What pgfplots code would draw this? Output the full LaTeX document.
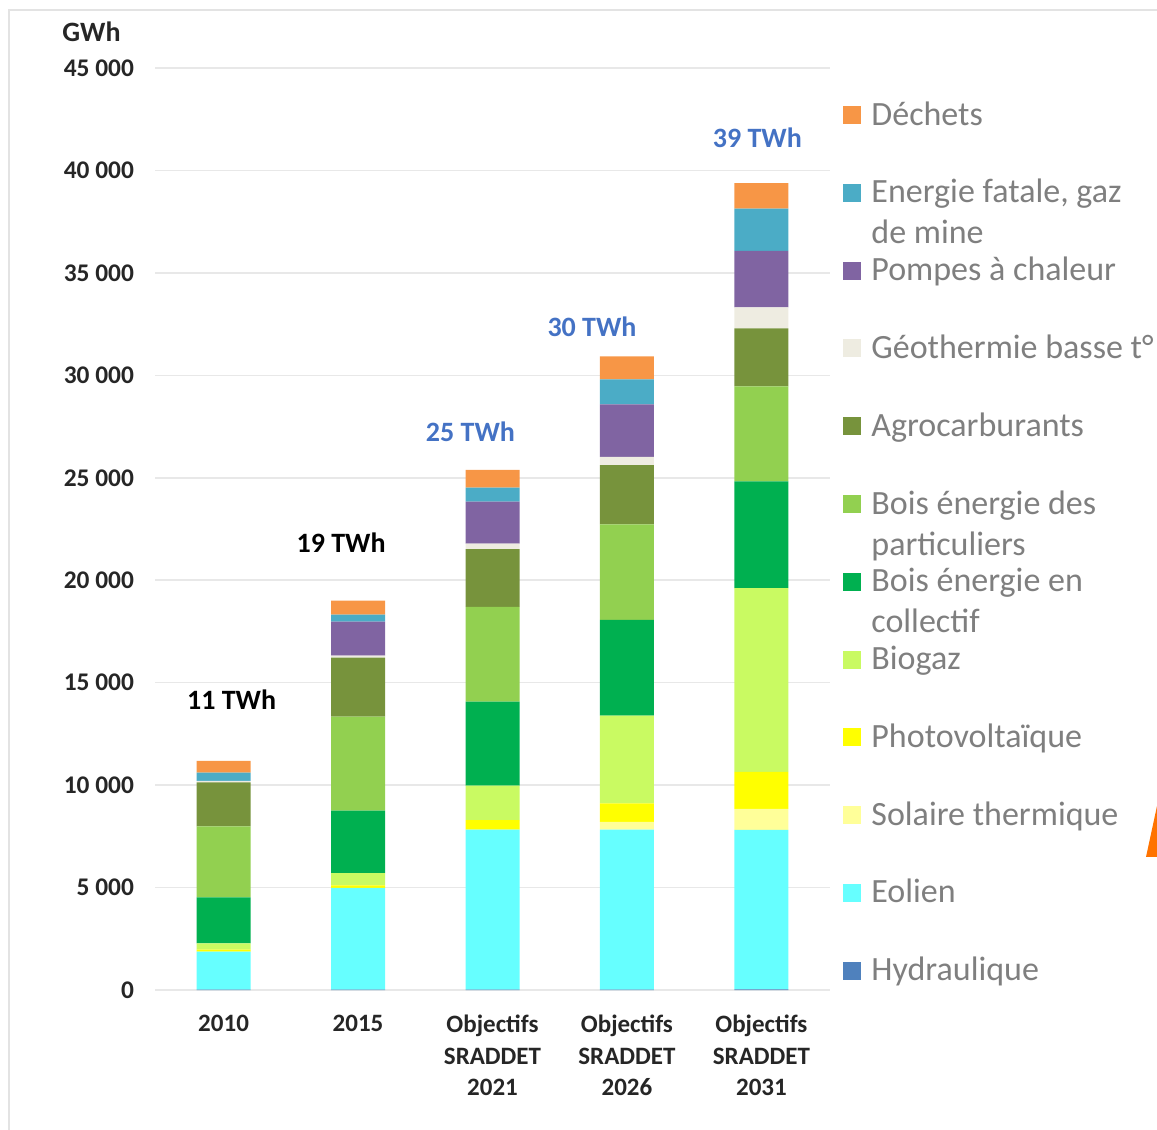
\documentclass[border=0pt]{standalone}
\usepackage{pgfplots}
\pgfplotsset{compat=1.18}
\usepackage{pgfplotstable}
\usepackage{fontspec}
\setmainfont{Carlito}

\definecolor{cHyd}{HTML}{4F81BD}
\definecolor{cEol}{HTML}{66FFFF}
\definecolor{cSol}{HTML}{FFFF99}
\definecolor{cPV}{HTML}{FFFF00}
\definecolor{cBio}{HTML}{C9FA62}
\definecolor{cBcol}{HTML}{00B050}
\definecolor{cBpart}{HTML}{92D050}
\definecolor{cAgro}{HTML}{77933C}
\definecolor{cGeo}{HTML}{EEECE1}
\definecolor{cPac}{HTML}{8064A2}
\definecolor{cFat}{HTML}{4BACC6}
\definecolor{cDech}{HTML}{F79646}
\definecolor{tickcol}{HTML}{262626}
\definecolor{leggray}{HTML}{7F7F7F}
\definecolor{twhblue}{HTML}{4472C4}

% GWh, categories 0..4 = 2010, 2015, 2021, 2026, 2031
\pgfplotstableread{
x hyd eol sol pv bio bcol bpart agro geo pac fat dech
0 20 1850 0 100 300 2250 3460 2150 80 0 400 570
1 20 4960 0 130 600 3050 4580 2880 100 1660 340 680
2 20 7810 0 460 1680 4110 4620 2820 260 2060 680 860
3 20 7810 370 910 4280 4680 4650 2900 400 2560 1220 1120
4 30 7780 1030 1800 8970 5210 4640 2830 1030 2760 2060 1240
}\data

\pgfplotsset{
  sq/.style={fill=#1, draw=none,
    legend image code/.code={\fill[##1] (0pt,0.5pt) rectangle (9pt,9.5pt);}},
}

\begin{document}
\begin{tikzpicture}
\path[use as bounding box] (0pt,0pt) rectangle (578.5pt,565pt);
\draw[gray!22, line width=1pt] (4.5pt,0pt) -- (4.5pt,560pt) -- (578.5pt,560pt);
\fill[orange!90!red] (573pt,136.5pt) -- (578.5pt,162pt) -- (578.5pt,136.5pt) -- cycle;
\node[anchor=base west, inner sep=0pt, text=tickcol,
  font=\bfseries\fontsize{14}{16}\selectfont] at (31pt,544pt) {GWh};

\begin{axis}[
  at={(77.5pt,70pt)}, anchor=south west,
  scale only axis, width=337.5pt, height=461pt,
  ybar stacked, bar width=27pt,
  xmin=-0.51, xmax=4.51, ymin=0, ymax=45000,
  xtick={0,1,2,3,4},
  xticklabels={2010,2015,{Objectifs\\SRADDET\\2021},{Objectifs\\SRADDET\\2026},{Objectifs\\SRADDET\\2031}},
  ytick={0,5000,10000,15000,20000,25000,30000,35000,40000,45000},
  yticklabels={0,5 000,10 000,15 000,20 000,25 000,30 000,35 000,40 000,45 000},
  scaled y ticks=false,
  ymajorgrids, grid style={gray!18, line width=0.8pt},
  axis line style={draw=none}, major tick length=0pt,
  tick style={draw=none},
  yticklabel style={font=\bfseries\fontsize{12.7}{15}\selectfont, text=tickcol, xshift=-7pt},
  xticklabel style={font=\bfseries\fontsize{12.5}{15.75}\selectfont, text=tickcol, align=center, yshift=-9pt},
  clip=false,
  reverse legend,
  legend cell align=left,
  legend style={at={(rel axis cs:1,1)}, anchor=north west, xshift=6.5pt, yshift=-16.3pt,
    draw=none, fill=none, inner sep=0pt, row sep=22.9pt, column sep=5pt,
    font=\fontsize{17}{20.5}\selectfont, text=leggray,
    nodes={text height=12pt, text depth=4pt, inner sep=0pt, anchor=base west}},
]
\addplot[sq=cHyd] table[x=x,y=hyd]{\data}; \addlegendentry{Hydraulique}
\addplot[sq=cEol] table[x=x,y=eol]{\data}; \addlegendentry{Eolien}
\addplot[sq=cSol] table[x=x,y=sol]{\data}; \addlegendentry{Solaire thermique}
\addplot[sq=cPV] table[x=x,y=pv]{\data}; \addlegendentry{Photovoltaïque}
\addplot[sq=cBio] table[x=x,y=bio]{\data}; \addlegendentry{Biogaz}
\addplot[sq=cBcol] table[x=x,y=bcol]{\data}; \addlegendentry{\begin{tabular}[t]{@{}l@{}}Bois énergie en\\collectif\end{tabular}}
\addplot[sq=cBpart] table[x=x,y=bpart]{\data}; \addlegendentry{\begin{tabular}[t]{@{}l@{}}Bois énergie des\\particuliers\end{tabular}}
\addplot[sq=cAgro] table[x=x,y=agro]{\data}; \addlegendentry{Agrocarburants}
\addplot[sq=cGeo] table[x=x,y=geo]{\data}; \addlegendentry{Géothermie basse t°}
\addplot[sq=cPac] table[x=x,y=pac]{\data}; \addlegendentry{Pompes à chaleur}
\addplot[sq=cFat] table[x=x,y=fat]{\data}; \addlegendentry{\begin{tabular}[t]{@{}l@{}}Energie fatale, gaz\\de mine\end{tabular}}
\addplot[sq=cDech] table[x=x,y=dech]{\data}; \addlegendentry{Déchets}

\node[font=\bfseries\fontsize{14}{16}\selectfont, text=black] at (axis cs:0.06,14150) {11 TWh};
\node[font=\bfseries\fontsize{14}{16}\selectfont, text=black] at (axis cs:0.874,21815) {19 TWh};
\node[font=\bfseries\fontsize{14}{16}\selectfont, text=twhblue] at (axis cs:1.836,27230) {25 TWh};
\node[font=\bfseries\fontsize{14}{16}\selectfont, text=twhblue] at (axis cs:2.74,32360) {30 TWh};
\node[font=\bfseries\fontsize{14}{16}\selectfont, text=twhblue] at (axis cs:3.97,41580) {39 TWh};
\end{axis}
\end{tikzpicture}
\end{document}
